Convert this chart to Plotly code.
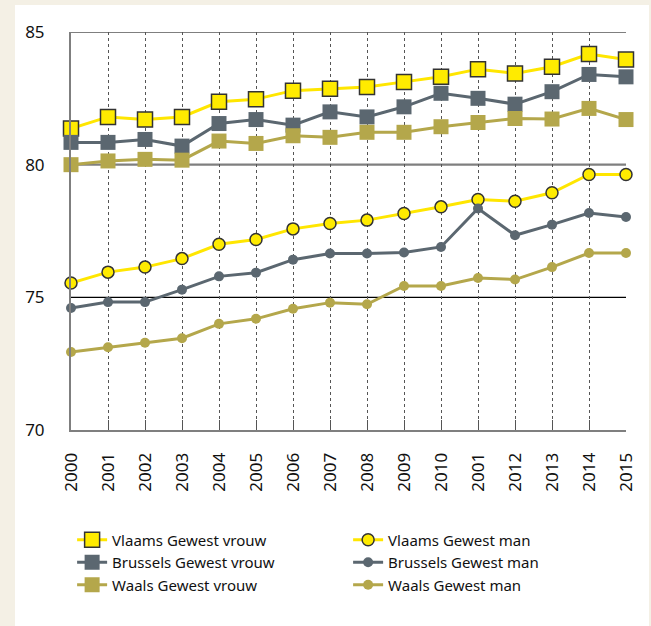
import plotly.graph_objects as go

years = list(range(16))
tick_labels = ["2000", "2001", "2002", "2003", "2004", "2005", "2006", "2007",
               "2008", "2009", "2010", "2001", "2012", "2013", "2014", "2015"]

vlaams_vrouw = [81.36, 81.8, 81.7, 81.8, 82.37, 82.47, 82.79, 82.86, 82.93, 83.12,
                83.31, 83.6, 83.44, 83.69, 84.17, 83.96]
brussels_vrouw = [80.84, 80.84, 80.95, 80.7, 81.55, 81.7, 81.49, 81.99, 81.8, 82.18,
                  82.69, 82.5, 82.28, 82.75, 83.4, 83.31]
waals_vrouw = [80.0, 80.14, 80.2, 80.17, 80.89, 80.8, 81.09, 81.03, 81.22, 81.22,
               81.43, 81.59, 81.74, 81.72, 82.12, 81.7]
vlaams_man = [75.54, 75.95, 76.14, 76.46, 77.0, 77.18, 77.58, 77.78, 77.91, 78.16,
              78.41, 78.69, 78.62, 78.94, 79.63, 79.63]
brussels_man = [74.6, 74.82, 74.82, 75.29, 75.79, 75.93, 76.42, 76.65, 76.65, 76.69,
                76.9, 78.35, 77.34, 77.74, 78.18, 78.03]
waals_man = [72.94, 73.12, 73.29, 73.46, 74.0, 74.19, 74.57, 74.8, 74.74, 75.43,
             75.43, 75.73, 75.67, 76.14, 76.67, 76.67]

YELLOW_LINE = "#FFE600"
YELLOW_FILL = "#FFEB00"
GRAY = "#5B6770"
OLIVE = "#B4A74B"

fig = go.Figure()

def add(name, y, color, symbol, size, fill, outline):
    fig.add_trace(go.Scatter(
        x=years, y=y, name=name, mode="lines+markers",
        line=dict(color=color, width=3),
        marker=dict(symbol=symbol, size=size, color=fill,
                    line=dict(color=outline, width=1.5 if outline != fill else 0)),
        cliponaxis=False,
    ))

add("Vlaams Gewest vrouw", vlaams_vrouw, YELLOW_LINE, "square", 15, YELLOW_FILL, "#333333")
add("Vlaams Gewest man", vlaams_man, YELLOW_LINE, "circle", 12, YELLOW_FILL, "#333333")
add("Brussels Gewest vrouw", brussels_vrouw, GRAY, "square", 15, GRAY, GRAY)
add("Brussels Gewest man", brussels_man, GRAY, "circle", 10, GRAY, GRAY)
add("Waals Gewest vrouw", waals_vrouw, OLIVE, "square", 15, OLIVE, OLIVE)
add("Waals Gewest man", waals_man, OLIVE, "circle", 10, OLIVE, OLIVE)

# white panel
fig.add_shape(type="rect", xref="paper", yref="paper",
              x0=-0.1009, x1=1.0414, y0=-0.5, y1=1.0678,
              fillcolor="white", line=dict(width=0), layer="below")
# horizontal reference lines
fig.add_shape(type="line", xref="x", yref="y", x0=0, x1=15, y0=85, y1=85,
              line=dict(color="black", width=1.2), layer="below")
fig.add_shape(type="line", xref="x", yref="y", x0=0, x1=15, y0=80, y1=80,
              line=dict(color="#7F7F7F", width=2.2), layer="below")
fig.add_shape(type="line", xref="x", yref="y", x0=0, x1=15, y0=75, y1=75,
              line=dict(color="black", width=1.2), layer="below")

fig.update_layout(
    width=651, height=626,
    margin=dict(l=71, r=25, t=32, b=196, autoexpand=False),
    paper_bgcolor="#F4F0E5",
    plot_bgcolor="rgba(0,0,0,0)",
    font=dict(family="Noto Sans", size=15, color="#111111"),
    showlegend=True,
    legend=dict(orientation="h", x=0.002, xanchor="left", y=-0.235, yanchor="top",
                entrywidth=231, entrywidthmode="pixels",
                font=dict(size=15, color="#111111"),
                bgcolor="rgba(0,0,0,0)", traceorder="normal"),
)
fig.update_xaxes(
    range=[0, 15], tickvals=years, ticktext=tick_labels, tickangle=-90,
    showgrid=True, gridcolor="#555555", griddash="dot", gridwidth=1,
    showline=True, linecolor="#7F7F7F", linewidth=2,
    ticks="inside", ticklen=10, tickcolor="#555555", tickwidth=1,
    zeroline=False, tickfont=dict(size=17), ticklabelstandoff=14,
)
fig.update_yaxes(
    range=[70, 85], tickvals=[70, 75, 80, 85], showgrid=False, zeroline=False,
    showline=True, linecolor="#7F7F7F", linewidth=2,
    ticks="", ticklabelstandoff=21, tickfont=dict(size=17),
)

fig.write_html(
    "out.html",
    config={"displayModeBar": False},
    post_script="document.body.style.margin='0';document.body.style.padding='0';"
                "document.body.style.overflow='hidden';",
)
